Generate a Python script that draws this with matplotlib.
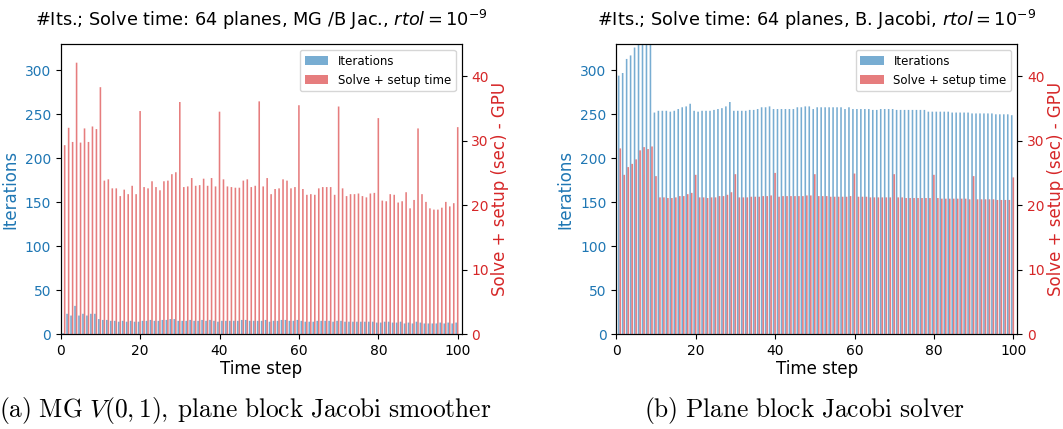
import numpy as np
import matplotlib
matplotlib.use("Agg")
import matplotlib.pyplot as plt

steps = np.arange(1, 101)

# MG V(0,1) with plane block Jacobi smoother
its_mg = [1, 23, 21, 32, 21, 23, 21, 23, 23, 17,
          16, 16, 15, 15, 14, 15, 14, 15, 14, 14,
          15, 15, 16, 15, 15, 16, 16, 17, 17, 15,
          15, 15, 16, 15, 15, 16, 15, 16, 15, 14,
          15, 15, 15, 15, 15, 16, 16, 15, 15, 15,
          15, 16, 14, 15, 15, 16, 16, 15, 15, 16,
          15, 14, 14, 14, 15, 15, 15, 15, 14, 15,
          15, 14, 14, 14, 14, 14, 14, 14, 14, 13,
          13, 14, 14, 13, 13, 14, 12, 13, 12, 14,
          13, 12, 12, 12, 12, 13, 12, 13, 12, 13]
time_mg = [29.3, 32.0, 29.8, 42.1, 29.7, 31.9, 29.8, 32.2, 31.8, 38.3,
           23.8, 24.0, 22.6, 22.6, 21.4, 22.4, 21.7, 23.0, 21.7, 34.6,
           22.8, 22.6, 23.7, 22.8, 22.3, 23.7, 23.8, 24.8, 25.1, 36.0,
           22.8, 22.9, 24.2, 23.0, 23.1, 24.1, 23.0, 24.2, 22.9, 34.5,
           24.0, 22.9, 22.8, 22.7, 22.7, 23.8, 24.0, 22.8, 23.0, 36.1,
           22.9, 24.2, 21.7, 22.5, 22.6, 24.0, 23.8, 22.6, 22.8, 35.5,
           22.5, 21.6, 21.7, 21.6, 22.6, 22.8, 22.8, 22.8, 21.6, 35.3,
           22.6, 21.4, 21.7, 21.7, 21.8, 21.4, 21.2, 21.8, 21.9, 33.5,
           20.7, 20.6, 21.7, 21.6, 20.4, 20.6, 22.0, 19.5, 20.8, 31.9,
           21.7, 20.5, 19.5, 19.3, 19.3, 19.6, 20.5, 19.8, 20.3, 32.1]

# plane block Jacobi as the solver
its_bj = [294, 297, 313, 317, 326, 340, 345, 350, 355, 252,
          254, 254, 254, 253, 254, 256, 258, 259, 262, 254,
          253, 254, 254, 254, 255, 256, 257, 259, 264, 254,
          254, 254, 254, 255, 255, 256, 258, 258, 259, 256,
          256, 256, 256, 256, 256, 258, 258, 259, 259, 256,
          258, 258, 258, 258, 258, 258, 258, 256, 258, 256,
          256, 256, 256, 256, 255, 255, 256, 256, 256, 256,
          255, 255, 255, 255, 255, 255, 255, 255, 253, 253,
          253, 253, 253, 253, 252, 252, 252, 252, 252, 251,
          251, 251, 251, 251, 251, 250, 250, 250, 250, 249]
time_bj = [28.8, 24.7, 25.9, 26.4, 27.1, 28.5, 29.0, 28.7, 29.1, 24.5,
           21.2, 21.2, 21.1, 21.1, 21.2, 21.4, 21.4, 21.7, 21.9, 24.7,
           21.2, 21.2, 21.1, 21.2, 21.2, 21.4, 21.4, 21.6, 22.0, 24.8,
           21.2, 21.2, 21.2, 21.3, 21.3, 21.3, 21.4, 21.4, 21.5, 25.0,
           21.3, 21.4, 21.4, 21.4, 21.4, 21.4, 21.4, 21.5, 21.5, 24.8,
           21.4, 21.4, 21.4, 21.3, 21.3, 21.3, 21.3, 21.3, 21.4, 24.9,
           21.3, 21.3, 21.3, 21.2, 21.2, 21.2, 21.2, 21.2, 21.2, 24.8,
           21.2, 21.2, 21.1, 21.1, 21.1, 21.1, 21.1, 21.1, 21.1, 24.7,
           21.1, 21.0, 21.0, 21.0, 21.0, 21.0, 21.0, 21.0, 20.9, 24.5,
           20.9, 20.9, 20.9, 20.9, 20.9, 20.8, 20.8, 20.8, 20.8, 24.3]

titles = [r"#Its.; Solve time: 64 planes, MG /B Jac., $rtol = 10^{-9}$",
          r"#Its.; Solve time: 64 planes, B. Jacobi, $rtol = 10^{-9}$"]
captions = [r"$\mathrm{(a)\ MG\ }V(0,1)\mathrm{,\:plane\ block\ Jacobi\ smoother}$",
            r"$\mathrm{(b)\ Plane\ block\ Jacobi\ solver}$"]


def its_time_plot(fig, rect, its, times, title):
    ax = fig.add_axes(rect)
    ax.bar(steps - 0.4, its, width=0.4, color="tab:blue", alpha=0.6,
           linewidth=0, snap=False, label="Iterations")
    ax.set_ylim(0, 330)
    ax.set_xlim(0, 101)
    ax.set_ylabel("Iterations", color="tab:blue", fontsize=12)
    ax.tick_params(axis="y", labelcolor="tab:blue")
    ax.set_xlabel("Time step", fontsize=12, labelpad=2)
    ax.set_title(title, fontsize=12.8, pad=13)

    ax2 = ax.twinx()
    ax2.bar(steps, times, width=0.4, color="tab:red", alpha=0.6,
            linewidth=0, snap=False, label="Solve + setup time")
    ax2.set_ylim(0, 45)
    ax2.set_yticks([0, 10, 20, 30, 40])
    ax2.set_ylabel("Solve + setup (sec) - GPU", color="tab:red", fontsize=12,
                   labelpad=1.5)
    ax2.tick_params(axis="y", labelcolor="tab:red")

    h1, l1 = ax.get_legend_handles_labels()
    h2, l2 = ax2.get_legend_handles_labels()
    ax2.legend(h1 + h2, l1 + l2, loc="upper right", fontsize=8.5)
    return ax, ax2


fig = plt.figure(figsize=(10.63, 4.29), dpi=100)
W, H = 1063, 429
its_time_plot(fig, [60.7 / W, 1 - 334 / H, 401 / W, 290 / H],
              its_mg, time_mg, titles[0])
its_time_plot(fig, [616.3 / W, 1 - 334 / H, 401 / W, 290 / H],
              its_bj, time_bj, titles[1])

fig.text(245 / W, 1 - 410 / H, captions[0], ha="center", va="center",
         fontsize=18.3, math_fontfamily="cm")
fig.text(805 / W, 1 - 410 / H, captions[1], ha="center", va="center",
         fontsize=18.3, math_fontfamily="cm")

fig.savefig("out.png", dpi=100)
